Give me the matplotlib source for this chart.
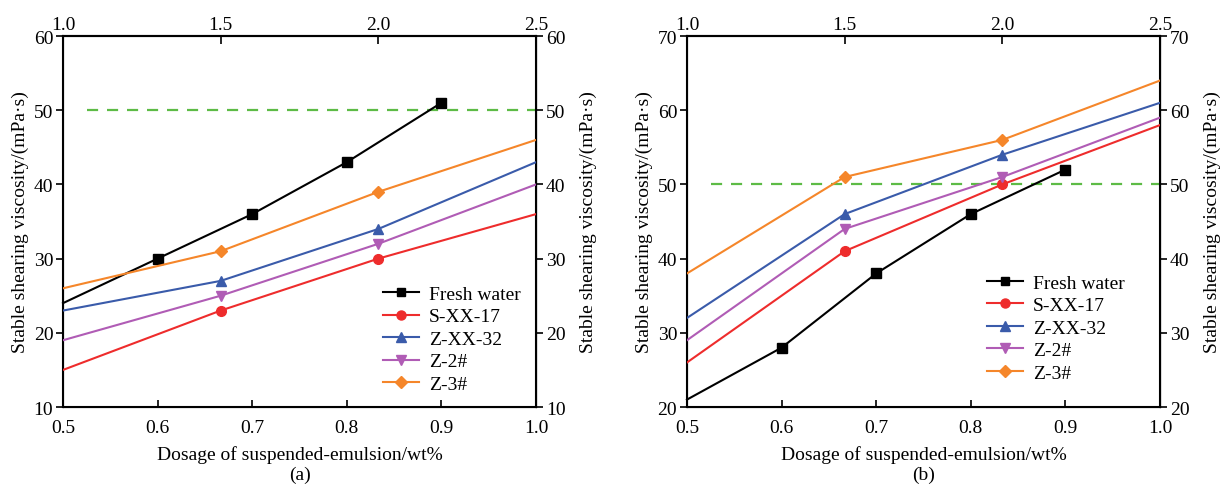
import matplotlib
matplotlib.use("Agg")
import matplotlib.pyplot as plt
from matplotlib.lines import Line2D

plt.rcParams['font.family'] = ['Liberation Serif', 'DejaVu Serif']
plt.rcParams['font.size'] = 14

# ---- data ----
fresh_x = [0.5, 0.6, 0.7, 0.8, 0.9]
top_x = [1.0, 1.5, 2.0, 2.5]
series_names = ['S-XX-17', 'Z-XX-32', 'Z-2#', 'Z-3#']

fresh_a = [24, 30, 36, 43, 51]
s17_a = [15, 23, 30, 36]
z32_a = [23, 27, 34, 43]
z2_a = [19, 25, 32, 40]
z3_a = [26, 31, 39, 46]

fresh_b = [21, 28, 38, 46, 52]
s17_b = [26, 41, 50, 58]
z32_b = [32, 46, 54, 61]
z2_b = [29, 44, 51, 59]
z3_b = [38, 51, 56, 64]

limit_value = 50
limit_x = [0.525, 1.0]

colors = {'Fresh water': '#000000', 'S-XX-17': '#EE2C2C', 'Z-XX-32': '#3A5BAA',
          'Z-2#': '#B05CB5', 'Z-3#': '#F5862A'}
markers = {'Fresh water': 's', 'S-XX-17': 'o', 'Z-XX-32': '^', 'Z-2#': 'v', 'Z-3#': 'D'}
msizes = {'Fresh water': 6.5, 'S-XX-17': 7, 'Z-XX-32': 7.5, 'Z-2#': 7.5, 'Z-3#': 6.5}

fig = plt.figure(figsize=(12.23, 4.89), dpi=100)

panels = [
    dict(pos=[0.0515, 0.1656, 0.3868, 0.7587], fresh=fresh_a,
         others=[s17_a, z32_a, z2_a, z3_a], ylim=(10, 60), yticks=[10, 20, 30, 40, 50, 60],
         tag='(a)', legxy=(0.677, 0.328)),
    dict(pos=[0.5617, 0.1656, 0.3868, 0.7587], fresh=fresh_b,
         others=[s17_b, z32_b, z2_b, z3_b], ylim=(20, 70), yticks=[20, 30, 40, 50, 60, 70],
         tag='(b)', legxy=(0.634, 0.358)),
]

ylabel = 'Stable shearing viscosity/(mPa·s)'

for p in panels:
    ax = fig.add_axes(p['pos'])
    ax.set_xlim(0.5, 1.0)
    ax.set_ylim(*p['ylim'])
    ax.set_xticks([0.5, 0.6, 0.7, 0.8, 0.9, 1.0])
    ax.set_yticks(p['yticks'])
    ax.tick_params(axis='x', direction='in', length=5, width=1.2, pad=8.5)
    ax.tick_params(axis='y', direction='out', length=5, width=1.2, pad=2)
    for s in ax.spines.values():
        s.set_linewidth(1.5)
    ax.set_xlabel('Dosage of suspended-emulsion/wt%', labelpad=6.5)
    ax.set_ylabel(ylabel, labelpad=3)

    ax.plot(limit_x, [limit_value, limit_value], ls=(0, (5, 4)), color='#5DBB46', lw=1.6)

    ax.plot(fresh_x, p['fresh'], color=colors['Fresh water'], lw=1.5,
            marker=markers['Fresh water'], ms=msizes['Fresh water'], markevery=[1, 2, 3, 4],
            clip_on=False, zorder=5)

    sec = ax.secondary_yaxis('right')
    sec.set_yticks(p['yticks'])
    sec.tick_params(direction='out', length=5, width=1.2, pad=2)
    sec.set_ylabel(ylabel, labelpad=10)

    axt = ax.twiny()
    axt.set_xlim(1.0, 2.5)
    axt.set_ylim(*p['ylim'])
    axt.set_xticks([1.0, 1.5, 2.0, 2.5])
    axt.set_xticklabels(['1.0', '1.5', '2.0', '2.5'])
    axt.tick_params(axis='x', direction='in', length=6, width=1.2, pad=2)
    axt.spines['top'].set_linewidth(1.5)
    for name, vals in zip(series_names, p['others']):
        axt.plot(top_x, vals, color=colors[name], lw=1.5, marker=markers[name],
                 ms=msizes[name], markevery=[1, 2], zorder=4)

    handles = [Line2D([], [], color=colors[n], lw=1.5, marker=markers[n], ms=msizes[n] - 0.5)
               for n in ['Fresh water'] + series_names]
    labels = ['Fresh water'] + series_names
    axt.legend(handles, labels, loc='upper left', bbox_to_anchor=p['legxy'], frameon=False,
               handlelength=1.85, handletextpad=0.5, labelspacing=0.25, borderaxespad=0,
               borderpad=0)

    cx = p['pos'][0] + p['pos'][2] / 2
    fig.text(cx, 0.01, p['tag'], ha='center', va='bottom')

fig.savefig('out.png', dpi=100)
